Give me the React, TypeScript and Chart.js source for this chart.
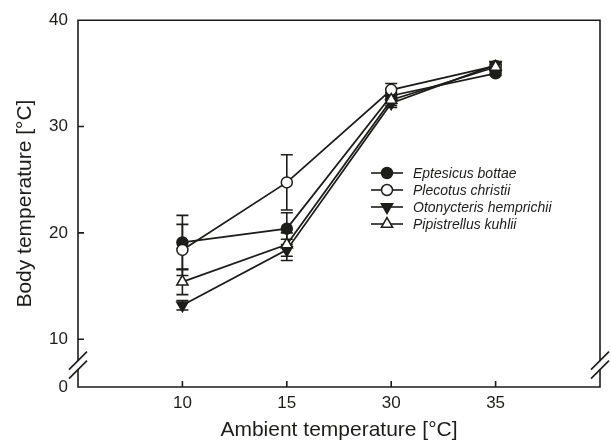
import React, { useEffect, useRef } from 'react';
import { Chart, registerables } from 'chart.js';

Chart.register(...registerables);

// ---- data ----
const categories = ['10', '15', '30', '35'];
const seriesNames = ['Eptesicus bottae', 'Plecotus christii', 'Otonycteris hemprichii', 'Pipistrellus kuhlii'];
const eptesicus = [19.1, 20.4, 32.9, 35.0];
const eptesicusErr = [2.55, 1.5, 0.3, 0.2];
const plecotus = [18.4, 24.75, 33.45, 35.7];
const plecotusErr = [2.4, 2.6, 0.6, 0.3];
const otonycteris = [13.2, 18.4, 32.2, 35.8];
const otonycterisErr = [0.45, 1.0, 0.4, 0.2];
const pipistrellus = [15.4, 18.9, 32.5, 35.6];
const pipistrellusErr = [1.2, 1.1, 0.5, 0.2];
const yTickValues = [10, 20, 30, 40];
const yBreakLabel = '0';
const yMin = 5.51;
const yMax = 40;
const xTitle = 'Ambient temperature [°C]';
const yTitle = 'Body temperature [°C]';

const INK = '#1d1d1b';
const FONT = '"Liberation Sans", Arial, Helvetica, sans-serif';

const seriesValues = [eptesicus, plecotus, otonycteris, pipistrellus];
const seriesErrors = [eptesicusErr, plecotusErr, otonycterisErr, pipistrellusErr];
// marker: [style, filled, rotation, radius]
const seriesMarkers: [string, boolean, number, number][] = [
  ['circle', true, 0, 5.5],
  ['circle', false, 0, 5.5],
  ['triangle', true, 180, 6.5],
  ['triangle', false, 0, 6.5],
];
const seriesOrder = [4, 3, 2, 1];

function drawMarker(ctx: CanvasRenderingContext2D, style: string, filled: boolean, rot: number, r: number, x: number, y: number) {
  ctx.save();
  ctx.beginPath();
  if (style === 'circle') {
    ctx.arc(x, y, r, 0, Math.PI * 2);
  } else {
    let a = (rot * Math.PI) / 180;
    for (let k = 0; k < 3; k++) {
      const px = x + Math.sin(a) * r;
      const py = y - Math.cos(a) * r;
      if (k === 0) ctx.moveTo(px, py); else ctx.lineTo(px, py);
      a += (2 * Math.PI) / 3;
    }
    ctx.closePath();
  }
  ctx.fillStyle = filled ? INK : '#ffffff';
  ctx.fill();
  ctx.lineWidth = 1.5;
  ctx.strokeStyle = INK;
  ctx.stroke();
  ctx.restore();
}

const framePlugin = {
  id: 'frame',
  beforeDatasetsDraw(chart: any) {
    const ctx: CanvasRenderingContext2D = chart.ctx;
    const xs = chart.scales.x;
    const ys = chart.scales.y;
    ctx.save();
    ctx.strokeStyle = INK;
    ctx.lineWidth = 1.6;
    seriesValues.forEach((vals, i) => {
      vals.forEach((v, j) => {
        const e = seriesErrors[i][j];
        const x = xs.getPixelForValue(j + 1);
        const yt = ys.getPixelForValue(v + e);
        const yb = ys.getPixelForValue(v - e);
        ctx.beginPath();
        ctx.moveTo(x, yt); ctx.lineTo(x, yb);
        ctx.moveTo(x - 6, yt); ctx.lineTo(x + 6, yt);
        ctx.moveTo(x - 6, yb); ctx.lineTo(x + 6, yb);
        ctx.stroke();
      });
    });
    ctx.restore();
  },
  afterDraw(chart: any) {
    const ctx: CanvasRenderingContext2D = chart.ctx;
    const { left, right, top, bottom } = chart.chartArea;
    const xs = chart.scales.x;
    const ys = chart.scales.y;
    ctx.save();
    ctx.strokeStyle = INK;
    ctx.lineWidth = 1.6;
    ctx.lineCap = 'butt';
    // frame
    ctx.beginPath();
    ctx.moveTo(left, top); ctx.lineTo(right, top);
    ctx.moveTo(left, bottom); ctx.lineTo(right, bottom);
    ctx.moveTo(left, top - 0.8); ctx.lineTo(left, bottom + 0.8);
    ctx.moveTo(right, top - 0.8); ctx.lineTo(right, bottom + 0.8);
    ctx.stroke();
    // ticks
    ctx.beginPath();
    yTickValues.forEach((v) => {
      if (v >= yMax) return;
      const y = ys.getPixelForValue(v);
      ctx.moveTo(left, y); ctx.lineTo(left + 6, y);
    });
    categories.forEach((_, j) => {
      const x = xs.getPixelForValue(j + 1);
      ctx.moveTo(x, bottom); ctx.lineTo(x, bottom - 6);
    });
    ctx.stroke();
    // breaks
    const cy = (ys.getPixelForValue(10) + bottom) / 2 + 2;
    [left, right].forEach((cx) => {
      ctx.fillStyle = '#ffffff';
      ctx.fillRect(cx - 2, cy - 4, 4, 8);
      ctx.beginPath();
      ctx.moveTo(cx - 9, cy - 4.5 + 9); ctx.lineTo(cx + 9, cy - 4.5 - 9);
      ctx.moveTo(cx - 9, cy + 4.5 + 9); ctx.lineTo(cx + 9, cy + 4.5 - 9);
      ctx.stroke();
    });
    // titles
    ctx.fillStyle = INK;
    ctx.font = `21px ${FONT}`;
    ctx.textAlign = 'center';
    ctx.textBaseline = 'middle';
    ctx.fillText(xTitle, (left + right) / 2, 430);
    ctx.save();
    ctx.translate(25, (top + bottom) / 2);
    ctx.rotate(-Math.PI / 2);
    ctx.fillText(yTitle, 0, 0);
    ctx.restore();
    // legend
    const lx = 387;
    const ly0 = 173;
    const dy = 17;
    ctx.font = `italic 14px ${FONT}`;
    ctx.textAlign = 'left';
    seriesNames.forEach((name, i) => {
      const y = ly0 + i * dy;
      ctx.beginPath();
      ctx.moveTo(lx - 16, y); ctx.lineTo(lx + 16, y);
      ctx.lineWidth = 1.6;
      ctx.stroke();
      const [st, f, rot, r] = seriesMarkers[i];
      drawMarker(ctx, st, f, rot, r, lx, y);
      ctx.fillStyle = INK;
      ctx.fillText(name, 413, y + 1);
    });
    ctx.restore();
  },
};

export default function App() {
  const ref = useRef<HTMLCanvasElement | null>(null);
  useEffect(() => {
    document.body.style.margin = '0';
    if (!ref.current) return;
    const datasets = seriesNames.map((name, i) => {
      const [st, f, rot, r] = seriesMarkers[i];
      return {
        label: name,
        data: seriesValues[i].map((v, j) => ({ x: j + 1, y: v })),
        borderColor: INK,
        borderWidth: 1.8,
        pointStyle: st,
        pointRotation: rot,
        pointRadius: r,
        pointBorderWidth: 1.5,
        pointBorderColor: INK,
        pointBackgroundColor: f ? INK : '#ffffff',
        tension: 0,
        fill: false,
        order: seriesOrder[i],
      };
    });
    const chart = new Chart(ref.current, {
      type: 'line',
      data: { datasets } as any,
      plugins: [framePlugin as any],
      options: {
        responsive: false,
        animation: false,
        layout: { padding: { top: 15, right: 11, left: 0, bottom: 0 } },
        plugins: { legend: { display: false }, tooltip: { enabled: false } },
        scales: {
          x: {
            type: 'linear',
            min: 0,
            max: 5,
            grid: { display: false, drawTicks: false },
            border: { display: false },
            afterBuildTicks: (s: any) => {
              s.ticks = categories.map((_, j) => ({ value: j + 1 }));
            },
            afterFit: (s: any) => {
              s.height = 60;
            },
            ticks: {
              autoSkip: false,
              maxRotation: 0,
              padding: 6,
              color: INK,
              font: { size: 17, family: FONT },
              callback: (v: any) => categories[Number(v) - 1] ?? '',
            },
          },
          y: {
            type: 'linear',
            min: yMin,
            max: yMax,
            grid: { display: false, drawTicks: false },
            border: { display: false },
            afterBuildTicks: (s: any) => {
              s.ticks = [{ value: yMin }, ...yTickValues.map((v) => ({ value: v }))];
            },
            afterFit: (s: any) => {
              s.width = 78;
            },
            ticks: {
              autoSkip: false,
              padding: 10,
              color: INK,
              font: { size: 17, family: FONT },
              callback: (v: any) => (Number(v) === yMin ? yBreakLabel : String(v)),
            },
          },
        },
      } as any,
    });
    return () => chart.destroy();
  }, []);
  return (
    <div style={{ width: 611, height: 447, background: '#fff' }}>
      <canvas ref={ref} width={611} height={447} style={{ display: 'block' }} />
    </div>
  );
}
